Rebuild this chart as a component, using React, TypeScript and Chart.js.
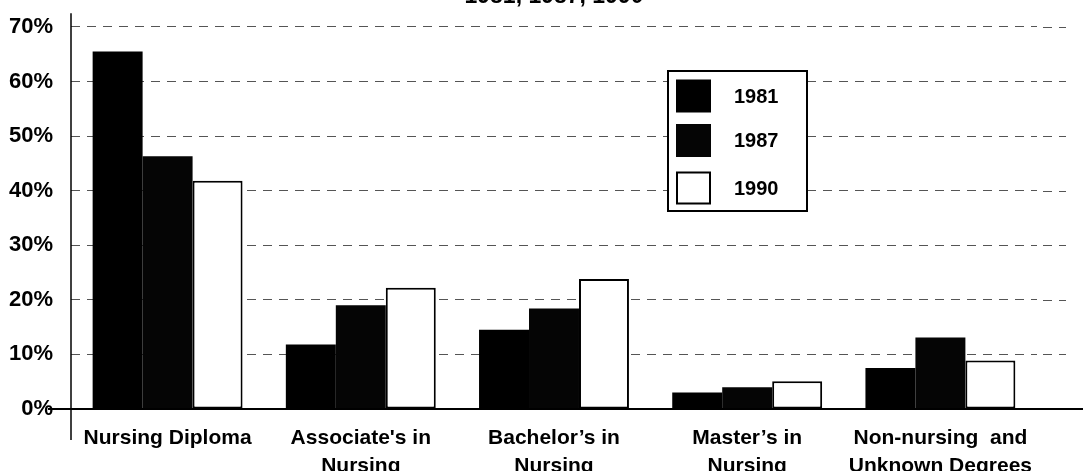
import React, { useEffect, useRef } from "react";
import { Chart, registerables } from "chart.js";

Chart.register(...registerables);

// ---- data ----
const categories: string[][] = [
  ["Nursing Diploma"],
  ["Associate's in", "Nursing"],
  ["Bachelor’s in", "Nursing"],
  ["Master’s in", "Nursing"],
  ["Non-nursing  and", "Unknown Degrees"],
];
const seriesLabels = ["1981", "1987", "1990"];
const values1981 = [65.5, 11.8, 14.5, 3.0, 7.5];
const values1987 = [46.3, 19.0, 18.4, 4.0, 13.1];
const values1990 = [41.8, 22.2, 23.8, 5.1, 8.9];
const yTickValues = [0, 10, 20, 30, 40, 50, 60, 70];
const titleText = "1981, 1987, 1990";

const FONT = "'Liberation Sans', Arial, Helvetica, sans-serif";
const OFFSET = 18; // canvas is shifted up so the title is cut off like the reference
const CANVAS_W = 1083;
const CANVAS_H = 498;
const DASH = [9, 7];

const extrasPlugin = {
  id: "extras",
  beforeDatasetsDraw(chart: any) {
    const { ctx, chartArea } = chart;
    const y = chart.scales.y;
    ctx.save();
    ctx.strokeStyle = "#555";
    ctx.lineWidth = 1;
    ctx.setLineDash(DASH);
    ctx.lineDashOffset = -((chartArea.right - chartArea.left) % (DASH[0] + DASH[1]));
    for (const t of y.ticks) {
      if (t.value === 0) continue;
      const py = Math.round(y.getPixelForValue(t.value)) + 0.5;
      ctx.beginPath();
      ctx.moveTo(chartArea.right, py);
      ctx.lineTo(1066, py);
      ctx.stroke();
    }
    ctx.restore();
  },
  afterDatasetsDraw(chart: any) {
    const { ctx, chartArea } = chart;
    const y = chart.scales.y;
    ctx.save();
    ctx.setLineDash([]);
    ctx.strokeStyle = "#000";
    // x baseline
    const y0 = y.getPixelForValue(0);
    ctx.lineWidth = 2;
    ctx.beginPath();
    ctx.moveTo(48, y0);
    ctx.lineTo(chart.width, y0);
    ctx.stroke();
    // y axis line
    ctx.lineWidth = 1.5;
    ctx.beginPath();
    ctx.moveTo(chartArea.left, chartArea.top);
    ctx.lineTo(chartArea.left, chartArea.bottom + 31);
    ctx.stroke();

    // legend box
    const bx = 668, by = 71 + OFFSET, bw = 139, bh = 140;
    ctx.fillStyle = "#fff";
    ctx.fillRect(bx, by, bw, bh);
    ctx.lineWidth = 2;
    ctx.strokeStyle = "#000";
    ctx.strokeRect(bx, by, bw, bh);
    const rows = [96, 140.5, 188];
    ctx.font = `bold 20px ${FONT}`;
    ctx.textBaseline = "middle";
    ctx.textAlign = "left";
    chart.data.datasets.forEach((ds: any, i: number) => {
      const cy = rows[i] + OFFSET;
      const sx = 676, sw = 35, sh = 33;
      ctx.fillStyle = ds.backgroundColor;
      ctx.fillRect(sx, cy - sh / 2, sw, sh);
      if (ds.borderWidth) {
        ctx.lineWidth = 2;
        ctx.strokeStyle = ds.borderColor;
        ctx.strokeRect(sx + 1, cy - sh / 2 + 1, sw - 2, sh - 2);
      }
      ctx.fillStyle = "#000";
      ctx.fillText(ds.label, 734, cy + 1);
    });
    ctx.restore();
  },
};

export default function App() {
  const canvasRef = useRef<HTMLCanvasElement | null>(null);

  useEffect(() => {
    if (!canvasRef.current) return;
    const chart = new Chart(canvasRef.current, {
      type: "bar",
      data: {
        labels: categories,
        datasets: [
          {
            label: seriesLabels[0],
            data: values1981,
            backgroundColor: "#000000",
            borderWidth: 0,
            categoryPercentage: 0.776,
            barPercentage: 1.0,
          },
          {
            label: seriesLabels[1],
            data: values1987,
            backgroundColor: "#050505",
            borderWidth: 0,
            categoryPercentage: 0.776,
            barPercentage: 1.0,
          },
          {
            label: seriesLabels[2],
            data: values1990,
            backgroundColor: "#ffffff",
            borderColor: "#000000",
            borderWidth: 2,
            borderSkipped: false,
            categoryPercentage: 0.776,
            barPercentage: 1.0,
          },
        ],
      },
      options: {
        animation: false,
        responsive: false,
        devicePixelRatio: 1,
        layout: { padding: { left: 0, right: 46, top: 0, bottom: 0 } },
        plugins: {
          legend: { display: false },
          tooltip: { enabled: false },
          title: {
            display: true,
            text: titleText,
            color: "#000",
            fullSize: false,
            font: { family: FONT, size: 23, weight: "bold", lineHeight: 1 },
            padding: { top: 0, bottom: 5 },
          },
        },
        scales: {
          x: {
            type: "category",
            grid: { display: false, drawTicks: false },
            border: { display: false },
            ticks: {
              color: "#000",
              font: { family: FONT, size: 21, weight: "bold", lineHeight: 1.35 },
              padding: 15,
              maxRotation: 0,
              autoSkip: false,
            },
            afterFit: (s: any) => {
              s.height = 71;
            },
          },
          y: {
            min: 0,
            max: 72.5,
            grid: {
              color: "#555",
              lineWidth: 1,
              drawTicks: false,
            },
            border: { display: false, dash: DASH },
            afterBuildTicks: (s: any) => {
              s.ticks = yTickValues.map((v) => ({ value: v }));
            },
            ticks: {
              color: "#000",
              font: { family: FONT, size: 22, weight: "bold" },
              padding: 18,
              callback: (v: any) => `${v}%`,
            },
            afterFit: (s: any) => {
              s.width = 71;
            },
          },
        },
      },
      plugins: [extrasPlugin],
    });
    return () => chart.destroy();
  }, []);

  return (
    <div
      style={{
        position: "fixed",
        left: 0,
        top: 0,
        width: CANVAS_W,
        height: 471,
        overflow: "hidden",
        background: "#fff",
      }}
    >
      <canvas
        ref={canvasRef}
        width={CANVAS_W}
        height={CANVAS_H}
        style={{ position: "absolute", left: 0, top: -OFFSET, width: CANVAS_W, height: CANVAS_H }}
      />
    </div>
  );
}
